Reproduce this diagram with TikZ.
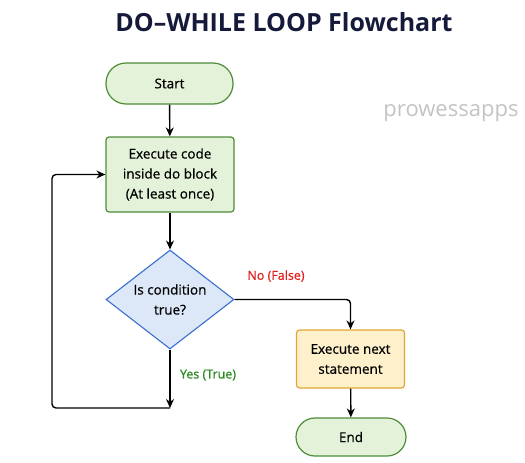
\documentclass[tikz,border=0pt]{standalone}
\usepackage{fontspec}
\setmainfont{Open Sans}
\newfontfamily\bodyfont[FakeBold=0.6]{Open Sans}
\usetikzlibrary{shapes.geometric,arrows.meta}
\definecolor{titlec}{HTML}{151A3A}
\definecolor{gfill}{HTML}{E4F2D9}
\definecolor{gdraw}{HTML}{4E8C3A}
\definecolor{bfill}{HTML}{DCE7F8}
\definecolor{bdraw}{HTML}{3C6FCE}
\definecolor{yfill}{HTML}{FDF0CA}
\definecolor{ydraw}{HTML}{E0A634}
\definecolor{noc}{HTML}{E31E1E}
\definecolor{yesc}{HTML}{2A8A1E}
\definecolor{wm}{HTML}{C4C4C4}
\begin{document}
\begin{tikzpicture}[x=1pt,y=-1pt,
  txt/.style={font=\bodyfont\fontsize{13.5}{20}\selectfont, text=black, align=center},
  term/.style={txt, draw=gdraw, fill=gfill, line width=1.2pt, rounded corners=#1, inner sep=0pt},
  procg/.style={txt, draw=gdraw, fill=gfill, line width=1.2pt, rounded corners=3pt, inner sep=0pt},
  procy/.style={txt, draw=ydraw, fill=yfill, line width=1.2pt, rounded corners=3pt, inner sep=0pt},
  dec/.style={diamond, draw=bdraw, fill=bfill, line width=1.1pt, inner sep=0pt},
  conn/.style={line width=1.4pt, black},
  arr/.style={conn, -{Stealth[length=9pt,width=8pt]}},
  lbl/.style={font=\bodyfont\fontsize{12.5}{14}\selectfont}
]
\useasboundingbox (0,0) rectangle (525,463);
\fill[white] (0,0) rectangle (525,463);
\node[font=\fontsize{25}{28}\selectfont\bfseries, text=titlec] (title) at (284,22) {DO–WHILE LOOP Flowchart};
\node[font=\fontsize{22}{24}\selectfont, text=wm] (wmark) at (451,113) {prowessapps};

\node[term=20pt, minimum width=127pt, minimum height=41pt] (start) at (169.5,83.5) {Start};
\node[procg, minimum width=128pt, minimum height=75pt] (exec) at (170,174.5) {Execute code\\inside do block\\(At least once)};
\node[dec, minimum width=128pt, minimum height=99pt] (cond) at (170,299.5) {};
\node[txt] (condtxt) at (cond.center) {Is condition\\true?};
\node[procy, minimum width=108pt, minimum height=58pt] (next) at (350.5,359) {Execute next\\statement};
\node[term=19pt, minimum width=110pt, minimum height=38pt] (end) at (351,437) {End};

\coordinate (yesend) at (170,408);
\coordinate (loopl) at (52,408);

\draw[arr] (start) -- (exec);
\draw[arr] (exec) -- (cond);
\draw[arr, rounded corners=4pt] (cond.east) -| (next.north);
\draw[arr] (cond.south) -- (yesend);
\draw[arr, rounded corners=4pt] (yesend) -- (loopl) |- (exec.west);
\draw[arr] (next) -- (end);

\node[lbl, text=noc] (nolbl) at (276,276) {No (False)};
\node[lbl, text=yesc] (yeslbl) at (208,375) {Yes (True)};
\end{tikzpicture}
\end{document}
